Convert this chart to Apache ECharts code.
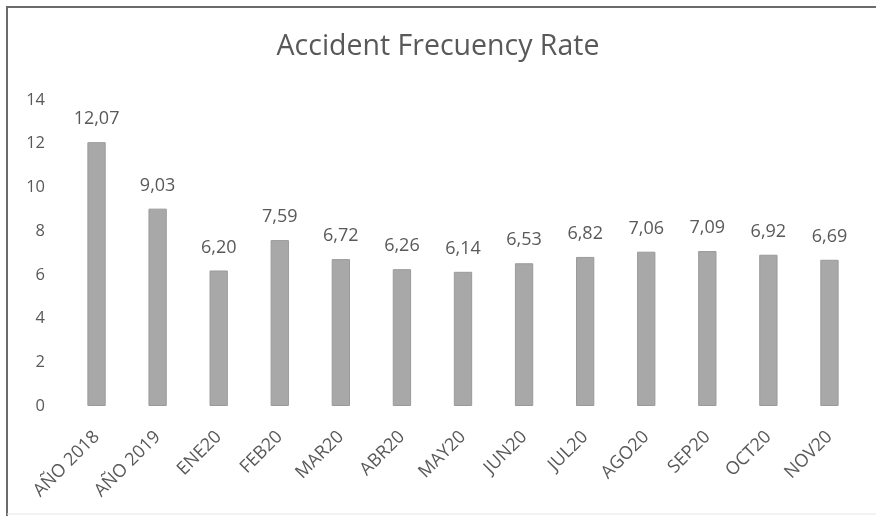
<!DOCTYPE html>
<html><head><meta charset="utf-8">
<script src="https://cdn.jsdelivr.net/npm/echarts@6/dist/echarts.min.js"></script>
<style>html,body{margin:0;padding:0;background:#fff}#c{width:876px;height:516px}</style>
</head><body><div id="c"></div>
<script>
const categories = ["AÑO 2018","AÑO 2019","ENE20","FEB20","MAR20","ABR20","MAY20","JUN20","JUL20","AGO20","SEP20","OCT20","NOV20"];
const values = [12.07, 9.03, 6.20, 7.59, 6.72, 6.26, 6.14, 6.53, 6.82, 7.06, 7.09, 6.92, 6.69];
const yTicks = {min: 0, max: 14, interval: 2};
const font = "Open Sans";
const chart = echarts.init(document.getElementById('c'));
chart.setOption({
  animation: false,
  backgroundColor: '#fff',
  title: {text: 'Accident Frecuency Rate', left: 'center', top: 27,
    textStyle: {fontFamily: font, fontSize: 28.5, fontWeight: 'normal', color: '#595959'}},
  graphic: [
    {type: 'polyline', shape: {points: [[7, 516], [7, 7], [876, 7]]},
      style: {fill: 'none', stroke: '#6b6b6b', lineWidth: 2}},
    {type: 'line', shape: {x1: 7, y1: 514, x2: 876, y2: 514},
      style: {stroke: '#e6e6e6', lineWidth: 1}}
  ],
  grid: {left: 66, right: 16, top: 100, bottom: 110},
  xAxis: {type: 'category', data: categories,
    axisLine: {show: false}, axisTick: {show: false},
    axisLabel: {rotate: 45, fontFamily: font, fontSize: 18, color: '#595959', margin: 28, interval: 0}},
  yAxis: {type: 'value', min: yTicks.min, max: yTicks.max, interval: yTicks.interval,
    splitLine: {show: false}, axisLine: {show: false}, axisTick: {show: false},
    axisLabel: {fontFamily: font, fontSize: 16.5, color: '#595959', margin: 21}},
  series: [{type: 'bar', data: values, barWidth: '30%',
    itemStyle: {color: '#a8a8a8', borderColor: '#9a9a9a', borderWidth: 1},
    label: {show: true, position: 'top', distance: 14, fontFamily: font, fontSize: 18, color: '#595959',
      formatter: p => p.value.toFixed(2).replace('.', ',')}}]
});
</script></body></html>
